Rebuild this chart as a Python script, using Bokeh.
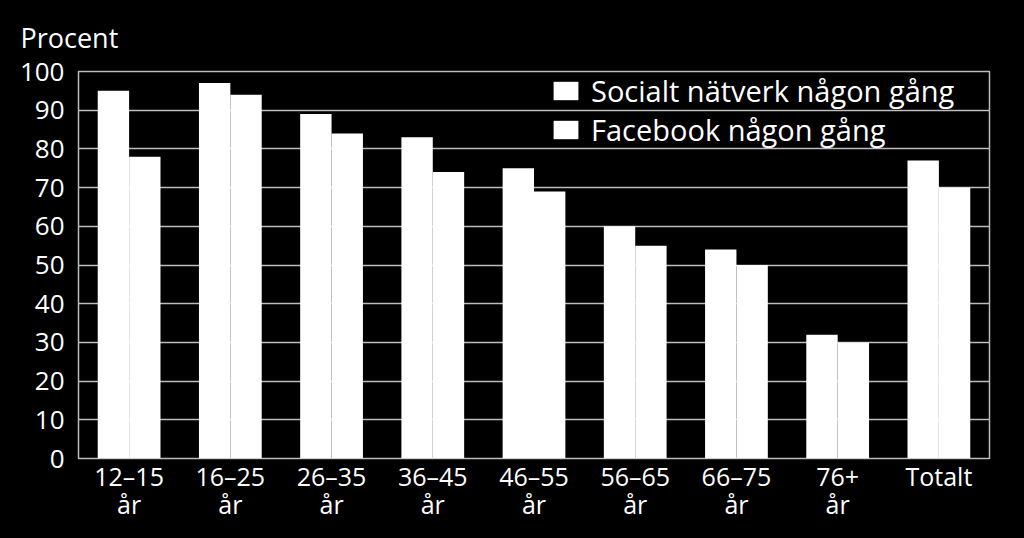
from bokeh.plotting import figure
from bokeh.models import ColumnDataSource, FactorRange, Legend, LegendItem, Title, FixedTicker
from bokeh.transform import dodge
from bokeh.embed import file_html
from bokeh.resources import INLINE

categories = ["12–15\når", "16–25\når", "26–35\når", "36–45\når", "46–55\når",
              "56–65\når", "66–75\når", "76+\når", "Totalt"]
social = [95, 97, 89, 83, 75, 60, 54, 32, 77]
facebook = [78, 94, 84, 74, 69, 55, 50, 30, 70]
series_names = ["Socialt nätverk någon gång", "Facebook någon gång"]
y_ticks = [0, 10, 20, 30, 40, 50, 60, 70, 80, 90, 100]
y_title = "Procent"

FONT = "Open Sans"
W, H = 1024, 538

src = ColumnDataSource(dict(cat=categories, social=social, facebook=facebook))

p = figure(x_range=FactorRange(*categories, range_padding=0), y_range=(0, 100),
           width=W, height=H, output_backend="svg", toolbar_location=None,
           min_border_left=78, min_border_right=35, min_border_top=71, min_border_bottom=80,
           background_fill_color="black", border_fill_color="black")

r1 = p.vbar(x=dodge("cat", -0.155, range=p.x_range), top="social", width=0.31, source=src,
            fill_color="white", line_color=None)
r2 = p.vbar(x=dodge("cat", 0.155, range=p.x_range), top="facebook", width=0.31, source=src,
            fill_color="white", line_color=None)

p.outline_line_color = "#bdbdbd"
p.outline_line_width = 1.5
p.xgrid.grid_line_color = None
p.ygrid.grid_line_color = "#bdbdbd"
p.ygrid.grid_line_width = 1.5
p.ygrid.level = "image"

p.yaxis.ticker = FixedTicker(ticks=y_ticks)
for ax in (p.xaxis[0], p.yaxis[0]):
    ax.axis_line_color = None
    ax.major_tick_line_color = None
    ax.minor_tick_line_color = None
    ax.major_tick_out = 0
    ax.major_tick_in = 0
    ax.major_label_text_color = "white"
    ax.major_label_text_font = FONT
p.yaxis.major_label_text_font_size = "26px"
p.xaxis.major_label_text_font_size = "25px"
p.yaxis.major_label_standoff = 14
p.xaxis.major_label_standoff = 0
p.xaxis.major_label_text_line_height = 0.85

legend = Legend(items=[LegendItem(label=series_names[0], renderers=[r1]),
                       LegendItem(label=series_names[1], renderers=[r2])],
                location=(472, 309), orientation="vertical",
                background_fill_alpha=0, border_line_color=None,
                label_text_color="white", label_text_font=FONT, label_text_font_size="29px",
                glyph_width=31, glyph_height=23, label_height=36, spacing=0,
                label_standoff=10, padding=0, margin=0)
p.add_layout(legend)

p.add_layout(Title(text=y_title, align="left", offset=-58, standoff=31,
                   text_color="white", text_font=FONT, text_font_size="27px",
                   text_font_style="normal"), "above")

html = file_html(p, INLINE)
html = html.replace("<head>", "<head><style>html,body{background:#000;margin:0;padding:0;overflow:hidden;}</style>", 1)
open("out.html", "w").write(html)
